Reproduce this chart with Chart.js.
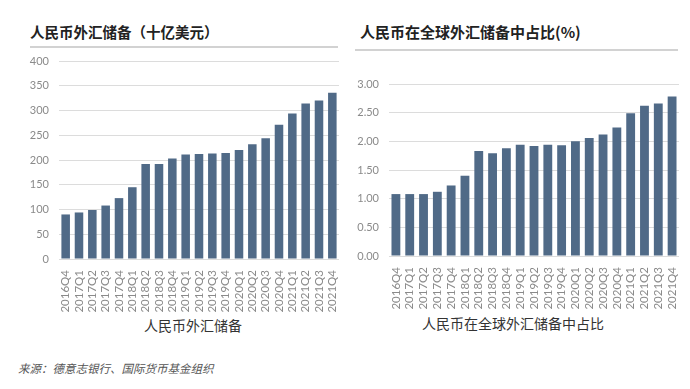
<!DOCTYPE html>
<html><head><meta charset="utf-8">
<script src="https://cdn.jsdelivr.net/npm/chart.js@4"></script>
<style>
html,body{margin:0;padding:0;background:#fff;width:690px;height:389px;overflow:hidden;position:relative;font-family:"Noto Sans CJK SC",sans-serif}
.t{position:absolute;white-space:nowrap;color:#222}
.ln{position:absolute;height:2px;background:#d2d2d2}
.cv{position:absolute}
</style></head><body>
<div class="t" style="left:30px;top:22px;font-size:14.5px;font-weight:bold;line-height:20px">人民币外汇储备（十亿美元）</div>
<div class="ln" style="left:30px;top:46px;width:308px"></div>
<div class="t" style="left:360px;top:22px;font-size:15px;font-weight:bold;line-height:20px">人民币在全球外汇储备中占比(%)</div>
<div class="ln" style="left:355px;top:49px;width:323px"></div>
<div class="t" style="left:144px;top:315px;font-size:14px;line-height:20px;color:#333">人民币外汇储备</div>
<div class="t" style="left:422px;top:313px;font-size:14px;line-height:20px;color:#333">人民币在全球外汇储备中占比</div>
<div class="t" style="left:18px;top:360px;font-size:11.5px;font-style:italic;line-height:16px;color:#555">来源：德意志银行、国际货币基金组织</div>
<div class="cv" style="left:10px;top:50px;width:335px;height:290px"><canvas id="c1"></canvas></div>
<div class="cv" style="left:345px;top:50px;width:345px;height:290px"><canvas id="c2"></canvas></div>
<script>
const quarters = ["2016Q4","2017Q1","2017Q2","2017Q3","2017Q4","2018Q1","2018Q2","2018Q3","2018Q4","2019Q1","2019Q2","2019Q3","2019Q4","2020Q1","2020Q2","2020Q3","2020Q4","2021Q1","2021Q2","2021Q3","2021Q4"];
const reserves = [90,94,99,108,123,145,192,192,203,211,212,213,214,220,232,244,271,294,314,320,336];
const sharePct = [1.08,1.08,1.08,1.12,1.23,1.40,1.83,1.79,1.88,1.94,1.92,1.94,1.93,2.00,2.06,2.12,2.24,2.49,2.62,2.66,2.78];
const leftTicks = [0,50,100,150,200,250,300,350,400];
const rightTicks = [0,0.5,1,1.5,2,2.5,3];

const barColor = "#506a87";
function zeroPad(s){s.paddingTop=0;s.paddingBottom=0;s.paddingLeft=0;s.paddingRight=0;}
function makeChart(id, labels, data, tickVals, fmt, yW, xH, pad){
  return new Chart(document.getElementById(id), {
    type:"bar",
    data:{labels:labels, datasets:[{data:data, backgroundColor:barColor, barPercentage:0.64, categoryPercentage:1.0}]},
    options:{
      responsive:true, maintainAspectRatio:false, animation:false,
      layout:{padding:pad},
      plugins:{legend:{display:false}, tooltip:{enabled:false}},
      scales:{
        x:{grid:{display:false}, border:{display:false},
           ticks:{minRotation:90,maxRotation:90,autoSkip:false,padding:3,color:"#8a8a8a",font:{family:"Lato",size:11.5}},
           afterFit(s){s.height=xH;zeroPad(s);}},
        y:{min:tickVals[0], max:tickVals[tickVals.length-1],
           afterBuildTicks(s){s.ticks=tickVals.map(v=>({value:v}));},
           grid:{color:"#dcdcdc",lineWidth:1,drawTicks:false}, border:{display:false},
           ticks:{padding:10,color:"#8a8a8a",font:{family:"Lato",size:11},callback:fmt},
           afterFit(s){s.width=yW;zeroPad(s);}}
      }
    }
  });
}
makeChart("c1", quarters, reserves, leftTicks, v=>String(v), 49, 81, {top:11,right:6,left:0,bottom:0});
makeChart("c2", quarters, sharePct, rightTicks, v=>Number(v).toFixed(2), 44, 84, {top:34,right:11,left:0,bottom:0});
</script>
</body></html>
